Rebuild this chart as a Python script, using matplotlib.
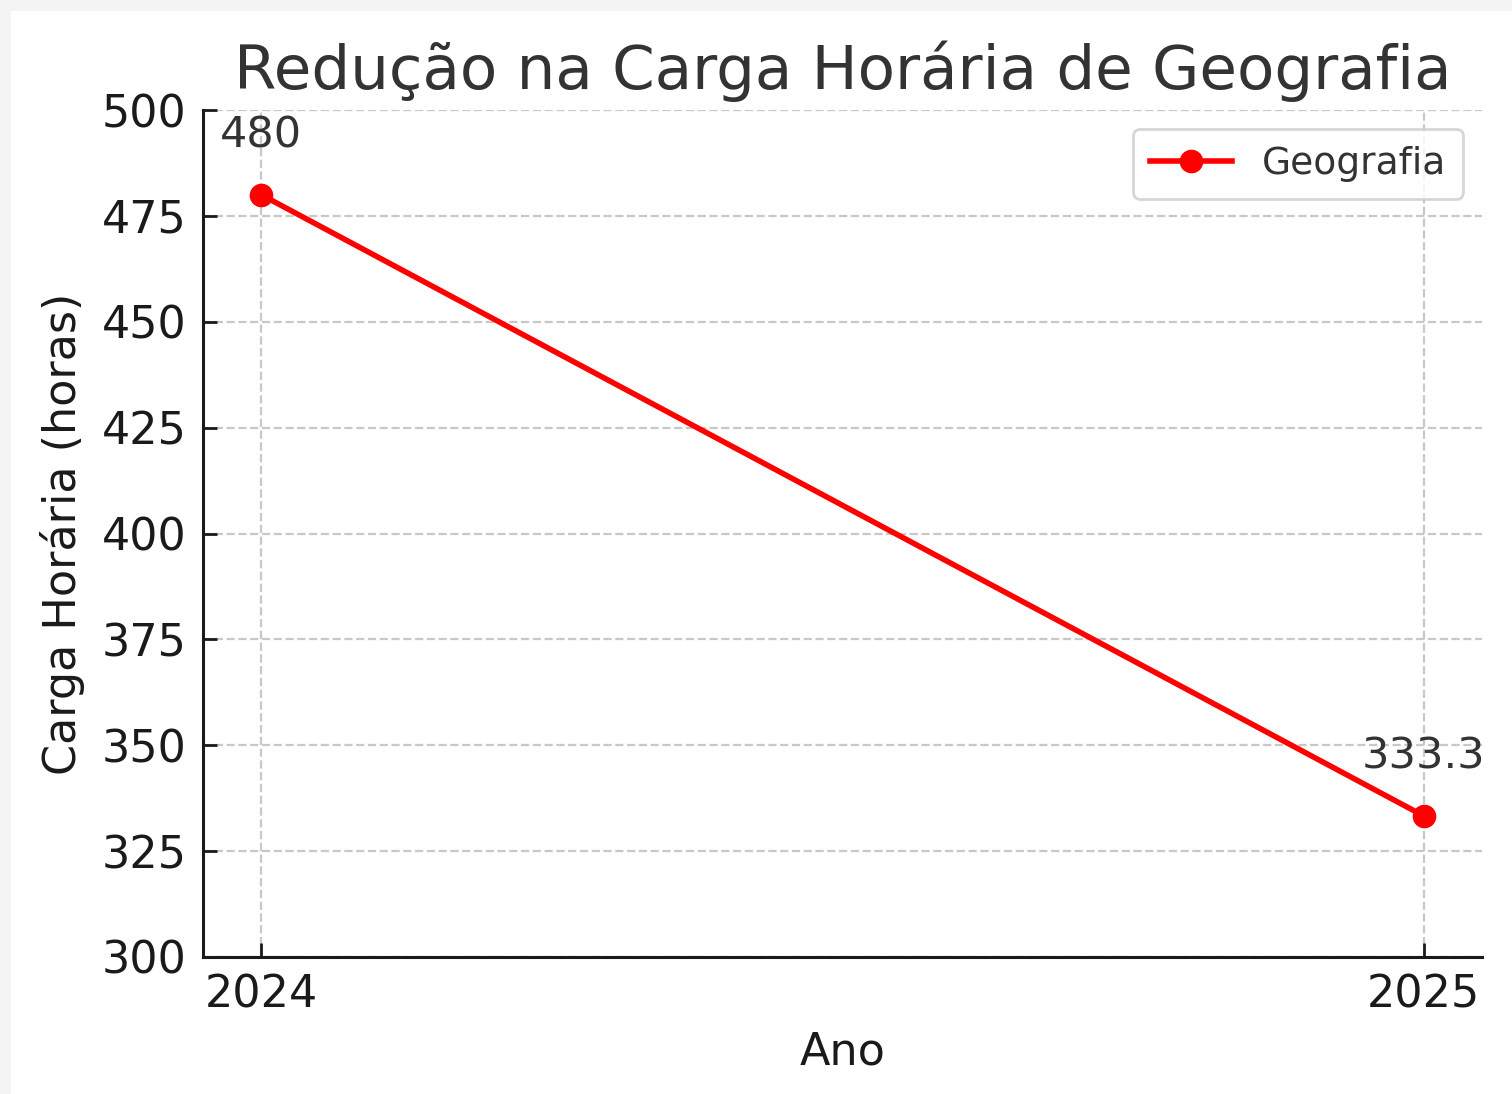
import matplotlib
matplotlib.use("Agg")
import matplotlib.pyplot as plt
from matplotlib.patches import Rectangle

anos = [2024, 2025]
carga_horaria = [480, 333.3]
rotulos = ["480", "333.3"]
serie = "Geografia"

fig = plt.figure(figsize=(15.12, 10.94), dpi=100, facecolor="#f4f4f4")
# white card over the light screenshot border
fig.patches.append(Rectangle((11 / 1512, 0), 1 - 11 / 1512, 1 - 11 / 1094,
                             transform=fig.transFigure, facecolor="white",
                             edgecolor="none", zorder=-5))

ax = fig.add_axes([203 / 1512, 137 / 1094, 1279 / 1512, 847 / 1094])
ax.set_zorder(2)
ax.set_facecolor("white")

ax.plot(anos, carga_horaria, color="red", linewidth=4, marker="o",
        markersize=16, label=serie, zorder=3)

for x, y, txt in zip(anos, carga_horaria, rotulos):
    ax.text(x, y + 9, txt, ha="center", va="bottom", fontsize=31, color="#333333")

ax.set_ylim(300, 500)
ax.set_xticks(anos)
ax.set_xticklabels([str(a) for a in anos])
ax.tick_params(axis="both", direction="in", length=10, width=2,
               labelsize=32, labelcolor="#1a1a1a", color="#1a1a1a")
ax.tick_params(axis="y", pad=12)
ax.tick_params(axis="x", pad=12)

ax.set_title("Redução na Carga Horária de Geografia", fontsize=44,
             color="#333333", pad=15)
ax.set_xlabel("Ano", fontsize=32, color="#1a1a1a", labelpad=10)
ax.set_ylabel("Carga Horária (horas)", fontsize=32, color="#1a1a1a", labelpad=12)

ax.grid(True, linestyle="--", color="#c8c8c8", linewidth=1.6)
ax.set_axisbelow(True)
for s in ["top", "right"]:
    ax.spines[s].set_visible(False)
for s in ["left", "bottom"]:
    ax.spines[s].set_linewidth(2.2)
    ax.spines[s].set_color("#1a1a1a")

leg = ax.legend(loc="upper right", fontsize=27, frameon=True, fancybox=True,
                borderpad=0.45, handlelength=2.2)
leg.get_frame().set_edgecolor("#cccccc")
leg.get_frame().set_linewidth(2)
for t in leg.get_texts():
    t.set_color("#333333")

fig.savefig("out.png", dpi=100, facecolor=fig.get_facecolor())
